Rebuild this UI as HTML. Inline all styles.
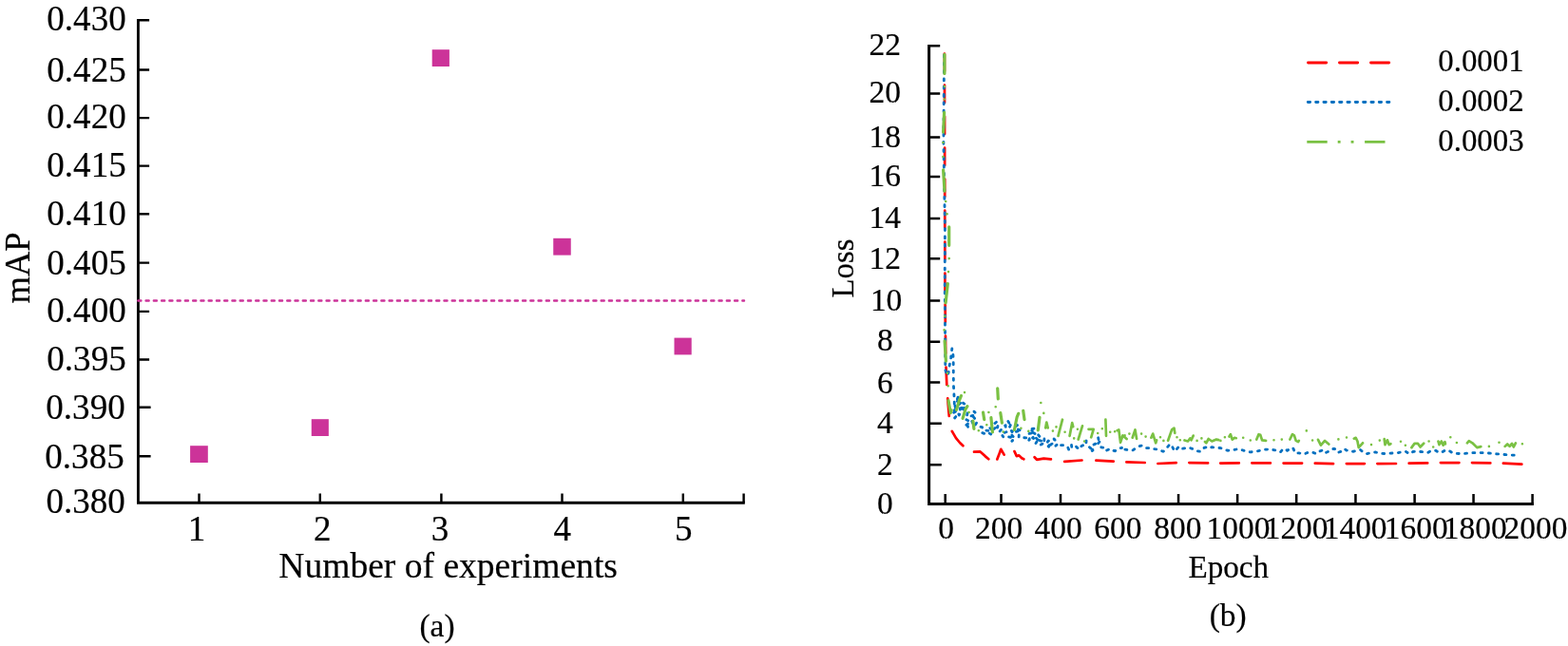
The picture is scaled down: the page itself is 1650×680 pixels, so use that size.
<!DOCTYPE html>
<html lang="en">
<head>
<meta charset="utf-8">
<title>mAP and Loss</title>
<style>
html,body{margin:0;padding:0;background:#fff;}
body{width:1650px;height:680px;overflow:hidden;}
svg{display:block;font-family:"Liberation Serif",serif;}
text{fill:#000;stroke:#000;stroke-width:0.2px;}
.ax{stroke:#000;fill:none;stroke-linecap:butt;}
.l{font-size:38.6px;}
.r{font-size:34.5px;}
</style>
</head>
<body>
<svg width="1650" height="680" viewBox="0 0 1650 680">
<rect x="0" y="0" width="1650" height="680" fill="#ffffff"/>
<g class="ax" stroke-width="2.85">
<path d="M145.4 20.1V529.25H783.8"/>
<path stroke-width="2.4" d="M145.4 21.3H157.1M145.4 73.5H157.1M145.4 124.1H157.1M145.4 174.65H157.1M145.4 225.3H157.1M145.4 276.6H157.1M145.4 327.9H157.1M145.4 378.45H157.1M145.4 428.75H158.6M145.4 480.25H158.6M209.5 529.25V519.6M336.8 529.25V519.6M464.4 529.25V519.6M591.5 529.25V519.6M718.8 529.25V519.6M782.6 529.25V519.6"/>
</g>
<g class="l">
<text transform="translate(132.7 31.5) scale(0.96 1)" text-anchor="end">0.430</text>
<text transform="translate(132.7 85.55) scale(0.96 1)" text-anchor="end">0.425</text>
<text transform="translate(132.7 134.9) scale(0.96 1)" text-anchor="end">0.420</text>
<text transform="translate(132.7 186) scale(0.96 1)" text-anchor="end">0.415</text>
<text transform="translate(132.7 236.9) scale(0.96 1)" text-anchor="end">0.410</text>
<text transform="translate(132.7 288.6) scale(0.96 1)" text-anchor="end">0.405</text>
<text transform="translate(132.7 338.5) scale(0.96 1)" text-anchor="end">0.400</text>
<text transform="translate(132.7 390.15) scale(0.96 1)" text-anchor="end">0.395</text>
<text transform="translate(131.7 440.9) scale(0.96 1)" text-anchor="end">0.390</text>
<text transform="translate(130.7 492.65) scale(0.96 1)" text-anchor="end">0.385</text>
<text transform="translate(131.8 540.1) scale(0.96 1)" text-anchor="end">0.380</text>
<text transform="translate(207 569.1) scale(0.96 1)" text-anchor="middle">1</text>
<text transform="translate(339.3 569.1) scale(0.96 1)" text-anchor="middle">2</text>
<text transform="translate(462.9 569.1) scale(0.96 1)" text-anchor="middle">3</text>
<text transform="translate(591.7 569.1) scale(0.96 1)" text-anchor="middle">4</text>
<text transform="translate(719.2 569.1) scale(0.96 1)" text-anchor="middle">5</text>
<text transform="translate(471.6 608) scale(0.973 1)" text-anchor="middle">Number of experiments</text>
<text transform="translate(31 282) rotate(-90) scale(0.973 1)" text-anchor="middle" font-size="37.5">mAP</text>
</g>
<path d="M145.3 316.5H783" fill="none" stroke="#cc3399" stroke-width="2.4" stroke-linecap="round" stroke-dasharray="3.1 5.16"/>
<g fill="#cc3399">
<rect x="200.1" y="469.2" width="18.7" height="17.8"/>
<rect x="327.75" y="441.2" width="18.1" height="17.8"/>
<rect x="454.7" y="52.2" width="18.2" height="17.8"/>
<rect x="582.25" y="250.8" width="18.5" height="17.8"/>
<rect x="709.5" y="355.6" width="18.2" height="17.8"/>
</g>
<g class="ax" stroke-width="3">
<path d="M977.6 46.95V530.6H1613.9"/>
<path stroke-width="2.5" d="M977.6 489.3H990.8M977.6 445.8H990.8M977.6 402.6H989.2M977.6 359.7H989.2M977.6 316.5H989.2M977.6 272.3H989.2M977.6 230H989.2M977.6 186.1H989.2M977.6 144.5H989.2M977.6 98.6H989.2M977.6 48.2H989.2M994.7 530.6V520M1053.5 530.6V520M1116 530.6V520M1177.85 530.6V520M1240.05 530.6V520M1302.15 530.6V520M1364.2 530.6V520M1426.45 530.6V520M1488.6 530.6V520M1550.55 530.6V520M1612.6 530.6V520"/>
</g>
<g class="r">
<text transform="translate(931.3 540.9) scale(0.97 1)" text-anchor="middle">0</text>
<text transform="translate(931.3 500.1) scale(0.97 1)" text-anchor="middle">2</text>
<text transform="translate(931.3 455.9) scale(0.97 1)" text-anchor="middle">4</text>
<text transform="translate(931.3 413.5) scale(0.97 1)" text-anchor="middle">6</text>
<text transform="translate(931.3 369.1) scale(0.97 1)" text-anchor="middle">8</text>
<text transform="translate(932.6 326.8) scale(0.97 1)" text-anchor="middle">10</text>
<text transform="translate(931.3 282.9) scale(0.97 1)" text-anchor="middle">12</text>
<text transform="translate(931.3 239.5) scale(0.97 1)" text-anchor="middle">14</text>
<text transform="translate(931.3 196.2) scale(0.97 1)" text-anchor="middle">16</text>
<text transform="translate(931.3 154.9) scale(0.97 1)" text-anchor="middle">18</text>
<text transform="translate(931.3 108.3) scale(0.97 1)" text-anchor="middle">20</text>
<text transform="translate(931.3 57.7) scale(0.97 1)" text-anchor="middle">22</text>
<text transform="translate(995.7 567.4) scale(0.97 1)" text-anchor="middle">0</text>
<text transform="translate(1051.15 567.4) scale(0.97 1)" text-anchor="middle">200</text>
<text transform="translate(1113.7 567.4) scale(0.97 1)" text-anchor="middle">400</text>
<text transform="translate(1176.45 567.4) scale(0.97 1)" text-anchor="middle">600</text>
<text transform="translate(1239.3 567.4) scale(0.97 1)" text-anchor="middle">800</text>
<text transform="translate(1302.95 567.4) scale(0.97 1)" text-anchor="middle">1000</text>
<text transform="translate(1364.1 567.4) scale(0.97 1)" text-anchor="middle">1200</text>
<text transform="translate(1426.15 567.4) scale(0.97 1)" text-anchor="middle">1400</text>
<text transform="translate(1490.2 567.4) scale(0.97 1)" text-anchor="middle">1600</text>
<text transform="translate(1552.3 567.4) scale(0.97 1)" text-anchor="middle">1800</text>
<text transform="translate(1616 567.4) scale(0.97 1)" text-anchor="middle">2000</text>
<text transform="translate(1292.8 608) scale(0.962 1)" text-anchor="middle">Epoch</text>
<text transform="translate(898.3 282.5) rotate(-90) scale(0.982 1)" text-anchor="middle" font-size="33.3">Loss</text>
<text transform="translate(1292.2 659.4) scale(0.97 1)" text-anchor="middle">(b)</text>
<text transform="translate(460 670) scale(0.97 1)" text-anchor="middle">(a)</text>
<text transform="translate(1513.2 75.3) scale(0.955 1)">0.0001</text>
<text transform="translate(1513.2 116.9) scale(0.955 1)">0.0002</text>
<text transform="translate(1513.2 158.9) scale(0.955 1)">0.0003</text>
</g>
<g fill="none" stroke-width="2.9">
<path d="M1376.5 66H1462" stroke="#ff0000" stroke-linecap="round" stroke-dasharray="19.2 13.8"/>
<path d="M1376.3 107.5H1463" stroke="#0070c0" stroke-linecap="round" stroke-dasharray="2.3 6.03"/>
<path d="M1375.3 149.4H1458" stroke="#7ac143" stroke-dasharray="21.4 11 2.9 11 2.9 11.6"/>
</g>
<g fill="none" stroke-linejoin="round">
<path stroke="#ff0000" stroke-width="2.7" stroke-linecap="round" stroke-dasharray="18.5 14.5" d="M993.9 56.5L994.2 200L994.4 300L995.2 380L996.4 407L997.3 420.4L999 441"/>
<path stroke="#ff0000" stroke-width="2.7" stroke-linecap="round" d="M1001.8 453.9L1006 461.2L1010 466L1013.4 469.3M1025 475.7L1031.5 475.4L1036.6 480.1L1040.3 483.2M1049.3 483.4L1051.2 478.6L1053.3 472.8L1056.6 478.7M1067.5 475.1L1069.8 480.1L1072.3 479.4L1075.2 482.3L1077.3 483.3M1088.6 481.3L1091 483.8L1098.3 482.6L1105.9 483.4M1120.2 485.8L1138.5 484.5M1153.4 484.7L1171.7 485.6M1185.4 486.4L1204.8 487M1218.4 488L1237.7 487.1M1251.4 487.1L1271.1 487.4M1284.2 487.6L1303.8 487.4M1317.4 487.4L1336.9 487.4M1350.6 487.6L1370.1 487.6M1383.8 487.7L1403 488.1M1416.9 488.1L1435.9 488.1M1449.4 488.1L1469 488M1482.7 487.7L1502.2 487.4M1515.9 487.1L1535.4 487.1M1549 487.1L1568.3 487.4M1581.9 487.6L1601.3 488.6"/>
<path stroke="#0070c0" stroke-width="2.8" stroke-linecap="round" stroke-dasharray="2.0 6.3" d="M993.5 58L992.9 150L994.4 240L994.2 300L994.8 389.5L996.5 395.5L998.1 392.4L999.2 384.3L1000.7 376.2L1001.8 367L1002.9 372.1L1003.2 381L1003.4 405L1004.2 420.7L1004.6 440L1006.7 437.4L1003.4 434.4L1007.7 432L1005.4 429.1L1004.7 426L1009 424.1L1005.5 420.3L1008.1 418L1006.9 421.3L1010.7 424.2L1007.3 427.6L1011 430.5L1007.7 433.9L1009.3 437L1010.5 434L1010.1 430.2L1014.5 428L1013.5 424.1L1016.9 426.6L1013.4 430.6L1015.6 433.3L1018.1 434.7L1017.5 437.6L1015.5 441.1L1021.2 443.9L1016.3 447.8L1019 450.8L1017.9 447.1L1023.6 445.2L1021.6 441.2L1021.4 438L1026.5 436.9L1025 433.1L1027.2 435.5L1024.2 438.7L1026.2 441.2L1028.6 443.3L1026.5 447.1L1029.2 449L1033.6 449.7L1032.8 455.2L1036.4 456.6L1035.9 453.1L1041.3 453.4L1040.7 449.9L1043.2 451.7L1039.8 455.3L1042.7 457.1L1043.2 453.5L1046.1 451.4L1048.4 449.4L1046.5 445.8L1049.1 443.8L1050.9 446.6L1049.3 449.9L1054.4 451.2L1051.4 454.8L1053.9 456.9L1055.7 459.9L1054.5 456.1L1059.8 454.5L1058.8 450.8L1057.7 447.9L1062.7 446.6L1060.8 443.4L1064.2 445.4L1062.7 449L1061.2 451.8L1065.4 454.1L1063.2 456.9L1061.5 459.8L1067.1 461.3L1064.8 464.3L1068.1 461.9L1064.6 457.7L1067.2 455.1L1071.1 453.8L1068.1 449.4L1070.6 447.5L1069.1 451L1074.3 453.3L1072.3 456.9L1072.1 459.9L1074.7 461.5L1077.1 460.7L1080.6 460.9L1081.1 464.3L1083.3 462.9L1083.1 460.2L1081.9 456.6L1087.8 455.8L1086.5 452L1085 454.8L1084.7 451.5L1088 451.2L1085.5 454.7L1090.6 457.2L1086.6 460.9L1091.8 463.5L1089.8 466.9L1092.9 464.2L1089.4 459.9L1092.2 457.2L1094 459.6L1091.7 462.8L1097.8 464.8L1095.3 468.1L1098.9 466.2L1098.9 462L1098.7 465.1L1101.3 466.9L1103.1 463.9L1105.7 465.9L1103.1 469.9L1106.1 471.7L1105.6 468L1109.7 465.7L1109.1 462L1111.7 465.2L1110.9 469.3L1114 466.3L1116.2 468.6L1119.4 468.7L1123.2 469.9L1124.8 473.5L1128 472.9L1127.5 468.3L1130.8 467.8L1133.2 471.1L1136.9 472.7L1138 469.5L1141.1 468.1L1143.1 463.9L1142.9 466.9L1144.7 469.3L1147.8 471.9L1147.1 475.9L1150 474.1L1148.6 470.3L1150.7 468.1L1153.2 466.9L1156.4 464.5L1155.6 460.6L1158.3 463.5L1155 467.5L1157.4 470.5L1160.4 471.1L1163.4 471.4L1164 474.3L1168.2 472.3L1170.6 473.9L1173.1 474.8L1175.5 473.5L1177.5 471.7L1180.3 471.7L1180 471.7L1182.4 469.9L1183.1 472.9L1186 473.5L1192.1 473.9L1198.1 469.9L1201.7 469L1205.9 471.7L1210.2 471.5L1215 472.7L1219.8 473.3L1224 475.3L1227.6 471.7L1230.1 468.7L1232.5 467.5L1234.3 471.7L1236.1 475.1L1239.1 471.7L1240.9 469.9L1243.9 472.3L1247.6 471.7L1251.2 471.1L1255.4 472.7L1259.6 474.7L1263.2 475.3L1266.9 471.5L1269.9 470.5L1272.9 471.7L1275 470.7L1279.8 471.1L1284.7 471.7L1288.3 472.7L1291.9 474.3L1296.7 473.9L1301.5 472.9L1306.4 473.5L1311.2 475.1L1316 475.9L1322 475.1L1326.9 474.1L1331.7 473.1L1337.7 473.1L1342.6 474.1L1347.4 475.9L1350.4 472.3L1352.8 472.9L1354.6 474.3L1358.2 471.7L1360.6 471.5L1363.1 477.1L1366.7 476.8L1371.5 477.7L1372.4 478L1377.2 475.9L1382.1 476.5L1385.1 477.7L1388.1 475.3L1391.1 474.1L1393.5 477.1L1397.7 475.3L1401.4 472.7L1404.4 472.3L1407.4 476.5L1411 475.3L1414.6 472.3L1417 474.1L1420.7 474.1L1423.7 475.3L1427.9 474.1L1431.5 473.5L1435.1 476.5L1437.6 477.7L1442.4 476.8L1447.2 475.9L1452 477.1L1456.9 477.5L1462.9 477.1L1469.8 476.8L1474.7 475.9L1478.9 475.1L1483.1 477.7L1487.3 475.3L1492.7 475.3L1498.8 475.9L1502.4 476.5L1506.6 474.1L1510.8 474.3L1514.5 476.5L1518.1 475.6L1521.7 473.5L1525.3 474.7L1528.9 477.1L1535 477.5L1539.8 477.5L1547 476.8L1557.2 476.5L1564.5 476.8L1571.7 477.5L1580.2 478.3L1588.6 478.9L1599.5 479.5"/>
<path stroke="#7ac143" stroke-width="3.2" stroke-linecap="round" d="M993.9 57.4L993.9 77.5M993.6 118.3L992.6 139.2M992.6 178.8L994 201.2M998.7 238.8L998.7 258.3M997.3 298.7L995.1 318.8M994.1 358.8L995.4 380.2M998 421.5L1000.3 434.6L1001.2 431.7M1006.5 431.4L1009.3 421.9L1011.4 416.6M1013.1 440.4L1015.9 430.9L1017.9 427.6M1023.9 443.2L1024.9 451.3M1034.5 434.1L1035.7 441.6M1042.9 439.6L1044.4 454.9M1049.7 408.8L1050.3 419.9M1052.8 434.7L1054.4 445.2M1067.4 452.5L1070.2 438.8L1071.7 435.3M1076.7 432.3L1078 441.6M1092.3 452.8L1094 439.3"/>
<path stroke="#7ac143" stroke-width="2.7" stroke-linecap="round" d="M1100.2 450.4L1101.3 444.6L1102.7 450.4M1113.5 458.9L1118 441.7M1125.6 458.8L1128.2 445.2L1129.2 449.2M1134.7 462.5L1139 448.3M1145.5 451.8L1150.7 451.8L1148.2 460.3M1163.4 441.7L1164 458.8M1175.6 453.2L1177.3 452.4L1179.1 465.7L1181.5 458.4L1185.6 462.1M1191.7 460.7L1194.5 452.4L1196.1 461.9M1211.4 460.7L1213.2 456.6L1216.2 466.3L1217.1 463.4M1229.1 463.7L1233.1 452.4L1235.5 450.6L1236.3 455.8M1246.5 463.5L1250 464.5L1252.4 461.4L1253.6 463.3L1255.7 458.6M1268 465L1269.3 466.3L1271.7 462L1275.3 464.5L1280 462.6L1282.4 463.1M1293.5 459.5L1294.9 457.2L1296.7 462.6L1299.1 460.8L1300.8 461.2M1322.3 462.5L1324.5 457.2L1326.3 457.8L1328.1 463.3L1332.1 463.8M1357.4 462.5L1360 457.2L1361.9 458.4L1363.7 463.9L1366.1 465.1L1366.8 463.9M1387 462.8L1389.9 468.7L1394.1 463.9L1398.3 467.5M1424.8 461.7L1426.7 460.8L1428.5 464.5L1429.7 471.1L1434 466.3M1456.7 462.2L1457.5 468.1L1459.9 463.3L1461.7 468.1L1463.4 467.2M1485.4 471.1L1488.5 466.9L1492.1 466.9L1494.6 470.5L1498.2 466.8M1513.5 464.6L1514.5 468.1L1516.9 464.5L1518.7 468.7L1520.5 465.1L1520.9 467.3M1543.9 466.3L1545.8 464.2L1549.4 466.3L1554.3 471.1L1558.3 470.1M1583.7 469.9L1586.2 467.5L1588.6 469.9L1591 466.9L1592.8 470.5L1594.9 466.4"/>
<path stroke="#7ac143" stroke-width="2.6" stroke-linecap="round" d="M993.9 91h0.01M993.8 104.5h0.01M992.4 150h0.01M992.4 165h0.01M995.2 212h0.01M996.6 225.3h0.01M998.7 272.1h0.01M998 286.1h0.01M994.2 332.7h0.01M993.6 347.4h0.01M997 392.7h0.01M997.7 406.3h0.01M1015 413.1h0.01M1019.6 434h0.01M1029.8 453.3h0.01M1040.4 434h0.01M1038.3 447.2h0.01M1047.7 428.3h0.01M1055.7 454.5h0.01M1074.4 450.8h0.01M1082.3 453.9h0.01M1095.3 424h0.01M1098.3 434.9h0.01M1107.9 453.6h0.01M1111.5 449.4h0.01M1120.6 454.8h0.01M1130.2 461.4h0.01M1133.9 451.8h0.01M1141.1 464.5h0.01M1155.2 456h0.01M1159.8 451.2h0.01M1168.2 454.8h0.01M1173.1 454.2h0.01M1183.6 458.4h0.01M1188.4 456.6h0.01M1201.1 456.6h0.01M1205.6 459.6h0.01M1221 460.2h0.01M1224.4 463.9h0.01M1238.5 460.2h0.01M1241.8 463.3h0.01M1259.6 463.9h0.01M1264.4 461.4h0.01M1284.4 463.9h0.01M1288.9 460.2h0.01M1308.2 460.8h0.01M1315.8 463.5h0.01M1340.5 463.3h0.01M1348.8 462.6h0.01M1374.8 453.4h0.01M1381.1 463.5h0.01M1408.4 462.4h0.01M1417 460.5h0.01M1443 468.1h0.01M1451.8 463.6h0.01M1474 464.7h0.01M1478.9 468.7h0.01M1503.6 464.5h0.01M1508.2 470.5h0.01M1526.3 460.2h0.01M1532.9 466h0.01M1566.9 469.9h0.01M1577.5 465.7h0.01M1601.9 467.2h0.01"/>
</g>
</svg>
</body>
</html>
